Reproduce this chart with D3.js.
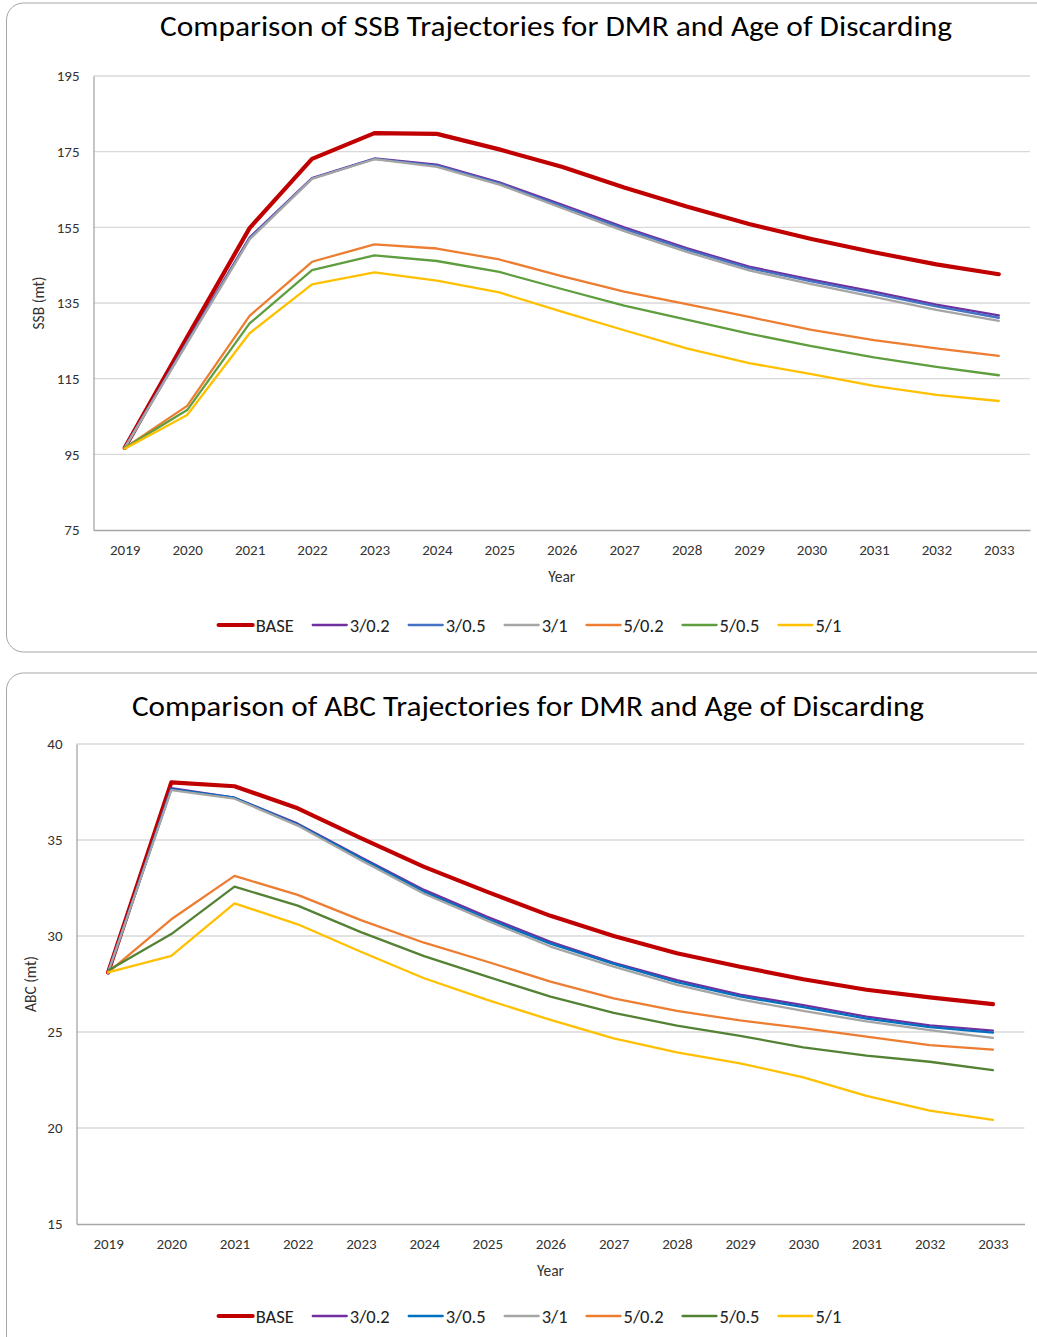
<!DOCTYPE html>
<html>
<head>
<meta charset="utf-8">
<script src="https://cdn.jsdelivr.net/npm/d3@7"></script>
<style>
  html, body { margin: 0; padding: 0; background: #fff; }
  svg { display: block; }
  text { font-family: Carlito, Calibri, "Open Sans", sans-serif; fill: #222; }
</style>
</head>
<body>
<svg id="chart" width="1037" height="1337"></svg>
<script>
const years = [2019, 2020, 2021, 2022, 2023, 2024, 2025, 2026, 2027, 2028, 2029, 2030, 2031, 2032, 2033];
const seriesNames = ["BASE", "3/0.2", "3/0.5", "3/1", "5/0.2", "5/0.5", "5/1"];

// SSB (mt)
const ssbBase  = [96.7, 126.0, 154.8, 173.1, 179.9, 179.7, 175.6, 171.0, 165.5, 160.5, 155.9, 151.9, 148.4, 145.2, 142.6];
const ssb3_02  = [96.7, 124.8, 152.3, 168.0, 173.2, 171.6, 166.9, 161.0, 155.0, 149.5, 144.6, 141.2, 138.0, 134.6, 131.7];
const ssb3_05  = [96.7, 124.6, 152.1, 167.9, 173.1, 171.3, 166.6, 160.6, 154.6, 149.1, 144.2, 140.7, 137.5, 134.1, 131.1];
const ssb3_1   = [96.7, 124.4, 151.8, 167.8, 173.0, 171.0, 166.3, 160.1, 154.0, 148.5, 143.6, 140.0, 136.6, 133.2, 130.3];
const ssb5_02  = [96.7, 107.8, 131.6, 145.9, 150.5, 149.4, 146.5, 142.1, 138.0, 134.7, 131.3, 127.9, 125.2, 123.0, 121.0];
const ssb5_05  = [96.7, 106.7, 129.6, 143.7, 147.6, 146.1, 143.2, 138.7, 134.3, 130.6, 126.9, 123.6, 120.6, 118.1, 115.9];
const ssb5_1   = [96.5, 105.4, 127.0, 139.9, 143.1, 140.9, 137.8, 132.7, 127.8, 123.0, 119.1, 116.2, 113.1, 110.7, 109.1];
const ssbTicks = [75, 95, 115, 135, 155, 175, 195];

// ABC (mt)
const abcBase  = [28.1, 38.0, 37.8, 36.65, 35.1, 33.6, 32.3, 31.05, 30.0, 29.1, 28.4, 27.75, 27.2, 26.8, 26.45];
const abc3_02  = [28.1, 37.7, 37.2, 35.85, 34.1, 32.4, 31.0, 29.7, 28.6, 27.7, 26.95, 26.4, 25.8, 25.35, 25.07];
const abc3_05  = [28.1, 37.65, 37.2, 35.8, 34.05, 32.3, 30.9, 29.6, 28.55, 27.6, 26.85, 26.3, 25.7, 25.25, 24.97];
const abc3_1   = [28.1, 37.6, 37.15, 35.75, 33.95, 32.2, 30.8, 29.45, 28.4, 27.45, 26.7, 26.1, 25.55, 25.1, 24.69];
const abc5_02  = [28.1, 30.87, 33.13, 32.14, 30.83, 29.65, 28.66, 27.62, 26.75, 26.1, 25.6, 25.2, 24.76, 24.32, 24.08];
const abc5_05  = [28.2, 30.1, 32.57, 31.58, 30.2, 28.95, 27.88, 26.84, 26.0, 25.33, 24.8, 24.2, 23.77, 23.45, 23.02];
const abc5_1   = [28.1, 28.96, 31.7, 30.61, 29.18, 27.8, 26.67, 25.63, 24.67, 23.94, 23.37, 22.64, 21.67, 20.9, 20.42];
const abcTicks = [15, 20, 25, 30, 35, 40];

const svg = d3.select("#chart");
const font = "Carlito, Calibri, 'Open Sans', sans-serif";

function drawPanel(cfg) {
  const g = svg.append("g");

  // card
  g.append("rect")
    .attr("x", 6.5).attr("y", cfg.cardTop)
    .attr("width", 1060).attr("height", cfg.cardHeight)
    .attr("rx", 17).attr("ry", 17)
    .attr("fill", "#fff").attr("stroke", "#a6a6a6").attr("stroke-width", 1);

  g.append("text")
    .attr("x", cfg.titleX).attr("y", cfg.titleY)
    .attr("text-anchor", "middle")
    .attr("font-size", 29)
    .attr("textLength", cfg.titleWidth)
    .attr("lengthAdjust", "spacingAndGlyphs")
    .style("fill", "#000")
    .text(cfg.title);

  const x = d3.scalePoint().domain(years).range([cfg.x0, cfg.x1]).padding(0.5);
  const y = d3.scaleLinear().domain(d3.extent(cfg.ticks)).range([cfg.yBottom, cfg.yTop]);

  // gridlines
  g.append("g").selectAll("line")
    .data(cfg.ticks.slice(1))
    .join("line")
    .attr("x1", cfg.x0).attr("x2", cfg.x1)
    .attr("y1", d => y(d)).attr("y2", d => y(d))
    .attr("stroke", "#d9d9d9").attr("stroke-width", 1.3);

  // y axis
  const yAxis = g.append("g")
    .attr("transform", `translate(${cfg.x0},0)`)
    .call(d3.axisLeft(y).tickValues(cfg.ticks).tickSize(0).tickPadding(14));
  yAxis.select(".domain").attr("stroke", "#a6a6a6").attr("stroke-width", 1.3);
  yAxis.selectAll("text").attr("font-size", 15).style("font-family", font).style("fill", "#333");

  // x axis
  const xAxis = g.append("g")
    .attr("transform", `translate(0,${cfg.yBottom})`)
    .call(d3.axisBottom(x).tickSize(0).tickPadding(14));
  xAxis.select(".domain").attr("stroke", "#a6a6a6").attr("stroke-width", 1.3);
  xAxis.selectAll("text").attr("font-size", 15).style("font-family", font).style("fill", "#333");

  // axis titles
  g.append("text")
    .attr("x", (cfg.x0 + cfg.x1) / 2).attr("y", cfg.yBottom + 52)
    .attr("text-anchor", "middle").attr("font-size", 15.5).style("fill", "#333")
    .text("Year");
  g.append("text")
    .attr("transform", `translate(${cfg.yTitleX},${(cfg.yTop + cfg.yBottom) / 2}) rotate(-90)`)
    .attr("text-anchor", "middle").attr("font-size", 15.5).style("fill", "#333")
    .text(cfg.yTitle);

  // lines, drawn in series order (later series on top)
  const line = d3.line().x((d, i) => x(years[i])).y(d => y(d));
  g.append("g").selectAll("path")
    .data(d3.range(seriesNames.length))
    .join("path")
    .attr("d", k => line(cfg.series[k]))
    .attr("fill", "none")
    .attr("stroke", k => cfg.colors[k])
    .attr("stroke-width", k => k === 0 ? 4.2 : 2.3)
    .attr("stroke-linejoin", "round")
    .attr("stroke-linecap", "round");

  // legend
  const leg = g.append("g").attr("transform", `translate(0,${cfg.legendY})`);
  const items = leg.selectAll("g").data(seriesNames).join("g");
  items.append("line")
    .attr("x1", 0).attr("x2", 34).attr("y1", 0).attr("y2", 0)
    .attr("stroke", (d, i) => cfg.colors[i])
    .attr("stroke-width", (d, i) => i === 0 ? 4.2 : 2.3)
    .attr("stroke-linecap", "round");
  items.append("text")
    .attr("x", 37).attr("y", 6.5)
    .attr("font-size", 18.5).style("fill", "#222")
    .text(d => d);
  const widths = [];
  items.each(function () { widths.push(this.getBBox().width); });
  const gap = 19;
  const total = d3.sum(widths) + gap * (widths.length - 1);
  let cx = cfg.legendCenter - total / 2;
  items.attr("transform", (d, i) => {
    const t = `translate(${cx},0)`;
    cx += widths[i] + gap;
    return t;
  });
}

drawPanel({
  title: "Comparison of SSB Trajectories for DMR and Age of Discarding",
  titleX: 556, titleY: 36, titleWidth: 792,
  cardTop: 3, cardHeight: 649,
  x0: 93.5, x1: 1030, yTop: 76, yBottom: 530,
  ticks: ssbTicks, yTitle: "SSB (mt)", yTitleX: 44,
  series: [ssbBase, ssb3_02, ssb3_05, ssb3_1, ssb5_02, ssb5_05, ssb5_1],
  colors: ["#c00000", "#7030a0", "#4472c4", "#a5a5a5", "#ed7d31", "#5e9e3e", "#ffc000"],
  legendY: 625, legendCenter: 530
});

drawPanel({
  title: "Comparison of ABC Trajectories for DMR and Age of Discarding",
  titleX: 528, titleY: 716, titleWidth: 792,
  cardTop: 673, cardHeight: 700,
  x0: 76.5, x1: 1024.5, yTop: 744, yBottom: 1224,
  ticks: abcTicks, yTitle: "ABC (mt)", yTitleX: 36,
  series: [abcBase, abc3_02, abc3_05, abc3_1, abc5_02, abc5_05, abc5_1],
  colors: ["#c00000", "#7030a0", "#0070c0", "#a5a5a5", "#ed7d31", "#548235", "#ffc000"],
  legendY: 1316, legendCenter: 530
});
</script>
</body>
</html>
